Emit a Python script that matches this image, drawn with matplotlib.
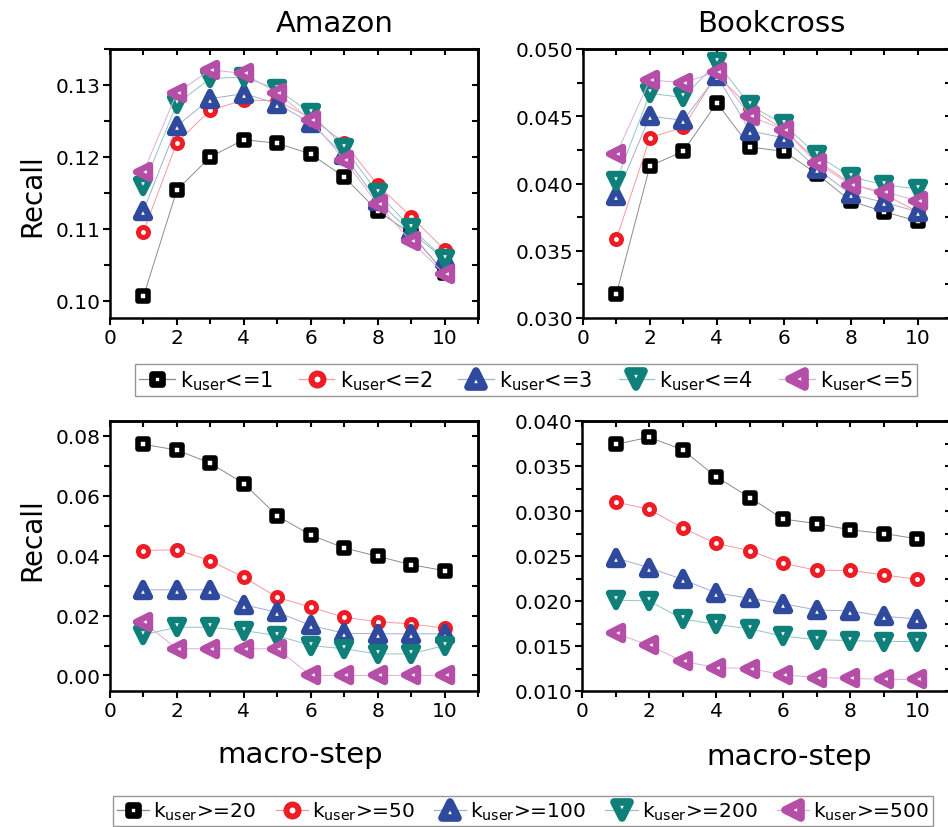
import matplotlib
matplotlib.use("Agg")
import matplotlib.pyplot as plt
import matplotlib.colors as mcolors
from matplotlib.markers import MarkerStyle
from matplotlib.lines import Line2D
from matplotlib.ticker import MultipleLocator, FormatStrFormatter

plt.rcParams['font.family'] = ['DejaVu Sans']
plt.rcParams['mathtext.fontset'] = 'dejavusans'

steps = [1, 2, 3, 4, 5, 6, 7, 8, 9, 10]

# Amazon, k_user <= n
amazon_le1 = [0.1006, 0.1154, 0.1200, 0.1224, 0.1219, 0.1204, 0.1172, 0.1125, 0.1093, 0.1039]
amazon_le2 = [0.1096, 0.1220, 0.1265, 0.1279, 0.1278, 0.1254, 0.1220, 0.1161, 0.1117, 0.1071]
amazon_le3 = [0.1125, 0.1243, 0.1281, 0.1288, 0.1274, 0.1247, 0.1202, 0.1139, 0.1095, 0.1058]
amazon_le4 = [0.1160, 0.1274, 0.1309, 0.1311, 0.1294, 0.1261, 0.1213, 0.1150, 0.1101, 0.1058]
amazon_le5 = [0.1179, 0.1289, 0.1321, 0.1316, 0.1289, 0.1251, 0.1196, 0.1134, 0.1083, 0.1037]

# Bookcross, k_user <= n
book_le1 = [0.0318, 0.0413, 0.0424, 0.0460, 0.0427, 0.0424, 0.0407, 0.0387, 0.0379, 0.0372]
book_le2 = [0.0359, 0.0434, 0.0442, 0.0481, 0.0456, 0.0440, 0.0417, 0.0400, 0.0392, 0.0379]
book_le3 = [0.0391, 0.0450, 0.0447, 0.0480, 0.0439, 0.0434, 0.0411, 0.0392, 0.0386, 0.0379]
book_le4 = [0.0402, 0.0467, 0.0464, 0.0490, 0.0458, 0.0444, 0.0421, 0.0405, 0.0399, 0.0396]
book_le5 = [0.0422, 0.0477, 0.0475, 0.0483, 0.0450, 0.0440, 0.0415, 0.0399, 0.0394, 0.0387]

# Amazon, k_user >= n
amazon_ge20 = [0.0772, 0.0753, 0.0709, 0.0641, 0.0533, 0.0469, 0.0426, 0.0398, 0.0370, 0.0350]
amazon_ge50 = [0.0417, 0.0420, 0.0383, 0.0328, 0.0261, 0.0228, 0.0194, 0.0180, 0.0172, 0.0158]
amazon_ge100 = [0.0286, 0.0286, 0.0286, 0.0236, 0.0211, 0.0167, 0.0141, 0.0139, 0.0139, 0.0139]
amazon_ge200 = [0.0136, 0.0161, 0.0161, 0.0150, 0.0133, 0.0100, 0.0089, 0.0072, 0.0072, 0.0100]
amazon_ge500 = [0.0178, 0.0089, 0.0089, 0.0089, 0.0089, 0.0000, 0.0000, 0.0000, 0.0000, 0.0000]

# Bookcross, k_user >= n
book_ge20 = [0.0374, 0.0382, 0.0368, 0.0338, 0.0315, 0.0291, 0.0286, 0.0279, 0.0275, 0.0269]
book_ge50 = [0.0310, 0.0302, 0.0281, 0.0264, 0.0256, 0.0242, 0.0234, 0.0234, 0.0229, 0.0224]
book_ge100 = [0.0248, 0.0237, 0.0224, 0.0209, 0.0203, 0.0197, 0.0190, 0.0189, 0.0183, 0.0180]
book_ge200 = [0.0201, 0.0200, 0.0180, 0.0174, 0.0169, 0.0161, 0.0157, 0.0156, 0.0155, 0.0155]
book_ge500 = [0.0164, 0.0151, 0.0133, 0.0126, 0.0125, 0.0118, 0.0115, 0.0114, 0.0113, 0.0113]

labels_le = ['k$_{\\mathrm{user}}$<=1', 'k$_{\\mathrm{user}}$<=2', 'k$_{\\mathrm{user}}$<=3',
             'k$_{\\mathrm{user}}$<=4', 'k$_{\\mathrm{user}}$<=5']
labels_ge = ['k$_{\\mathrm{user}}$>=20', 'k$_{\\mathrm{user}}$>=50', 'k$_{\\mathrm{user}}$>=100',
             'k$_{\\mathrm{user}}$>=200', 'k$_{\\mathrm{user}}$>=500']

colors = ['#000000', '#EE1C25', '#2F4A9C', '#0F7F7A', '#B54EA6']
markers = ['s', 'o', '^', 'v', '<']
msizes = [6.6, 7.2, 9.5, 9.5, 9.5]
mews = [4.0, 3.6, 4.6, 4.6, 4.6]

W, H = 948, 828
fig = plt.figure(figsize=(W / 100, H / 100), dpi=100)


def box(l, r, t, b):
    return [l / W, (H - b) / H, (r - l) / W, (b - t) / H]


def light(c):
    rgb = mcolors.to_rgb(c)
    return tuple(0.45 * v + 0.55 for v in rgb)


def draw(ax, series, labels, ylim, ymaj, ymin, fmt):
    for i, ys in enumerate(series):
        mk = MarkerStyle(markers[i], joinstyle='round')
        ax.plot(steps, ys, color=light(colors[i]), lw=0.7,
                marker=mk, ms=msizes[i], mew=mews[i], mec=colors[i],
                mfc='white', clip_on=False, zorder=3 + i, label=labels[i])
    ax.set_xlim(0, 11)
    ax.set_ylim(*ylim)
    ax.xaxis.set_major_locator(MultipleLocator(2))
    ax.xaxis.set_minor_locator(MultipleLocator(1))
    ax.yaxis.set_major_locator(MultipleLocator(ymaj))
    ax.yaxis.set_minor_locator(MultipleLocator(ymin))
    ax.yaxis.set_major_formatter(FormatStrFormatter(fmt))
    ax.tick_params(which='both', direction='out', width=1.5, labelsize=14.5,
                   top=False, right=False, pad=2)
    ax.tick_params(which='major', length=5)
    ax.tick_params(which='minor', length=4)
    for sp in ax.spines.values():
        sp.set_linewidth(1.8)
    sx = ax.secondary_xaxis('top')
    sx.xaxis.set_major_locator(MultipleLocator(1))
    sx.tick_params(which='both', direction='in', length=4, width=1.5, labeltop=False)
    sx.spines['top'].set_linewidth(1.8)
    sy = ax.secondary_yaxis('right')
    sy.yaxis.set_major_locator(MultipleLocator(ymin))
    sy.tick_params(which='both', direction='in', length=4, width=1.5, labelright=False)
    sy.spines['right'].set_linewidth(1.8)


ax1 = fig.add_axes(box(110, 478, 50, 319))
draw(ax1, [amazon_le1, amazon_le2, amazon_le3, amazon_le4, amazon_le5], labels_le,
     (0.0976, 0.135), 0.01, 0.005, '%.2f')
ax2 = fig.add_axes(box(583, 951, 50, 319))
draw(ax2, [book_le1, book_le2, book_le3, book_le4, book_le5], labels_le,
     (0.030, 0.050), 0.005, 0.0025, '%.3f')
ax3 = fig.add_axes(box(110, 478, 422, 692))
draw(ax3, [amazon_ge20, amazon_ge50, amazon_ge100, amazon_ge200, amazon_ge500], labels_ge,
     (-0.0052, 0.085), 0.02, 0.01, '%.2f')
ax4 = fig.add_axes(box(582, 951, 422, 692))
draw(ax4, [book_ge20, book_ge50, book_ge100, book_ge200, book_ge500], labels_ge,
     (0.010, 0.040), 0.005, 0.0025, '%.3f')

fig.text(335 / W, 1 - 24 / H, 'Amazon', fontsize=21, ha='center', va='center')
fig.text(771 / W, 1 - 24 / H, 'Bookcross', fontsize=21, ha='center', va='center')
fig.text(32 / W, 1 - 196 / H, 'Recall', fontsize=20, rotation=90, ha='center', va='center')
fig.text(32 / W, 1 - 540 / H, 'Recall', fontsize=20, rotation=90, ha='center', va='center')
fig.text(300 / W, 1 - 755 / H, 'macro-step', fontsize=21, ha='center', va='center')
fig.text(789 / W, 1 - 757 / H, 'macro-step', fontsize=21, ha='center', va='center')


def legend_handles():
    hs = []
    for i in range(5):
        hs.append(Line2D([], [], color=light(colors[i]), lw=0.9,
                         marker=MarkerStyle(markers[i], joinstyle='round'),
                         ms=msizes[i] * 1.2, mew=mews[i] * 1.2,
                         mec=colors[i], mfc='white'))
    return hs


leg1 = fig.legend(legend_handles(), labels_le, loc='center',
                  bbox_to_anchor=(526 / W, 1 - 381 / H), ncol=5, frameon=True,
                  fancybox=False, fontsize=15, handlelength=1.7, handletextpad=0.25,
                  columnspacing=1.25, borderpad=0.2, borderaxespad=0)
leg1.get_frame().set_edgecolor('#7f7f7f')
leg1.get_frame().set_linewidth(1.0)

leg2 = fig.legend(legend_handles(), labels_ge, loc='center left',
                  bbox_to_anchor=(113 / W, 1 - 812 / H), ncol=5, frameon=True,
                  fancybox=False, fontsize=14.5, handlelength=1.6, handletextpad=0.2,
                  columnspacing=0.95, borderpad=0.2, borderaxespad=0)
leg2.get_frame().set_edgecolor('#7f7f7f')
leg2.get_frame().set_linewidth(1.0)

fig.savefig('out.png', dpi=100)
